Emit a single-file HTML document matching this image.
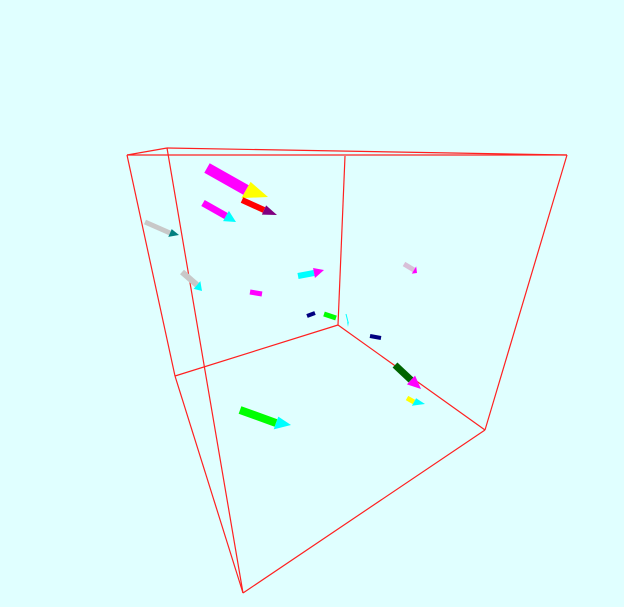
<!DOCTYPE html>
<html><head><meta charset="utf-8"><style>
html,body{margin:0;padding:0;background:#e0ffff;}
svg{display:block}
</style></head><body>
<svg id="plot" width="624" height="607" viewBox="0 0 624 607">
<rect width="624" height="607" fill="#e0ffff"/>
<g id="box" stroke="#ff2020" stroke-width="1.2" fill="none"></g>
<g id="cones"></g>
</svg>
<script>
// cube edges (projected screen vertices)
const boxX1=[127,127,167,127,167,345,567,175,338,175,243];
const boxY1=[155,155,148,155,148,156,155,376,325,376,593];
const boxX2=[167,567,567,175,243,338,485,338,485,243,485];
const boxY2=[148,155,155,376,593,325,430,325,430,593,430];
// cone data: shaft start, shaft end, tip, width, colors
const sx=[207,242,203,145,182,250,298,404,307,324,346,370,395,407,240];
const sy=[168,200,203,222,272,292,276,264,316,314,314,336,365,398,410];
const ex=[246,264,226,170,197,262,314,414,315,336,348,381,411,414,276];
const ey=[190,210,216,233,285,294,273,270,313,318,322,338,380,402,423];
const tx=[268,277,236,179,202,262,324,417,315,336,348,381,421,425,291];
const ty=[197,215,222,235,291,294,270,273,313,318,327,338,389,404,425];
const wd=[11,6,7,5,6,5,6,5,4,5,1,4,7,5,8];
const shaftCol=['#ff00ff','#ff0000','#ff00ff','#c8c8c8','#c8c8c8','#ff00ff','#00ffff','#d8bfd8','#000080','#00ff00','#00ffff','#000080','#006400','#ffff00','#00ff00'];
const tipCol=['#ffff00','#800080','#00ffff','#008080','#00ffff','#ff00ff','#ff00ff','#ff00ff','#000080','#00ff00','#00ffff','#000080','#ff00ff','#00ffff','#00ffff'];
const NS='http://www.w3.org/2000/svg';
const box=document.getElementById('box');
for(let i=0;i<boxX1.length;i++){
  const l=document.createElementNS(NS,'line');
  l.setAttribute('x1',boxX1[i]);l.setAttribute('y1',boxY1[i]);
  l.setAttribute('x2',boxX2[i]);l.setAttribute('y2',boxY2[i]);
  
  
  box.appendChild(l);
}
const g=document.getElementById('cones');
for(let i=0;i<sx.length;i++){
  const dx=ex[i]-sx[i],dy=ey[i]-sy[i],L=Math.hypot(dx,dy)||1;
  const nx=-dy/L*wd[i]/2,ny=dx/L*wd[i]/2;
  const p=document.createElementNS(NS,'polygon');
  p.setAttribute('points',`${sx[i]+nx},${sy[i]+ny} ${ex[i]+nx},${ey[i]+ny} ${ex[i]-nx},${ey[i]-ny} ${sx[i]-nx},${sy[i]-ny}`);
  p.setAttribute('fill',shaftCol[i]);
  
  
  g.appendChild(p);
  const tdx=tx[i]-ex[i],tdy=ty[i]-ey[i];
  if(Math.hypot(tdx,tdy)>0.5){
    const k=1.7;
    const t=document.createElementNS(NS,'polygon');
    t.setAttribute('points',`${ex[i]+nx*k},${ey[i]+ny*k} ${tx[i]},${ty[i]} ${ex[i]-nx*k},${ey[i]-ny*k}`);
    t.setAttribute('fill',tipCol[i]);
    
    
    g.appendChild(t);
  }
}
</script>
</body></html>
